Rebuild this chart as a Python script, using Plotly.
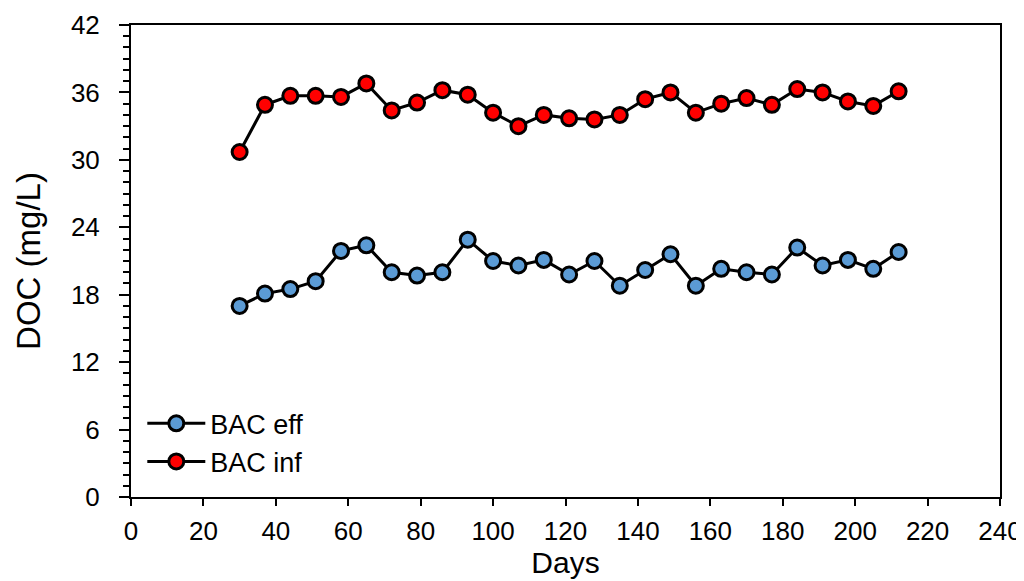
import plotly.graph_objects as go

days = [30, 37, 44, 51, 58, 65, 72, 79, 86, 93, 100, 107, 114, 121, 128, 135,
        142, 149, 156, 163, 170, 177, 184, 191, 198, 205, 212]
bac_inf = [30.7, 34.9, 35.7, 35.7, 35.6, 36.8, 34.4, 35.1, 36.2, 35.8, 34.2, 33.0,
           34.0, 33.7, 33.6, 34.0, 35.4, 36.0, 34.2, 35.0, 35.5, 34.9, 36.3, 36.0,
           35.2, 34.8, 36.1]
bac_eff = [17.0, 18.1, 18.5, 19.2, 21.9, 22.4, 20.0, 19.7, 20.0, 22.9, 21.0, 20.6,
           21.1, 19.8, 21.0, 18.8, 20.2, 21.6, 18.8, 20.3, 20.0, 19.8, 22.2, 20.6,
           21.1, 20.3, 21.8]

FONT = "Liberation Sans, Arial, sans-serif"

fig = go.Figure()
fig.add_trace(go.Scatter(
    x=days, y=bac_eff, name="BAC eff", mode="lines+markers",
    line=dict(color="black", width=3),
    marker=dict(size=15, color="#5B9BD5", line=dict(color="black", width=3)),
))
fig.add_trace(go.Scatter(
    x=days, y=bac_inf, name="BAC inf", mode="lines+markers",
    line=dict(color="black", width=3),
    marker=dict(size=15, color="#FF0000", line=dict(color="black", width=3)),
))

fig.update_layout(
    width=1024, height=581,
    margin=dict(l=123, r=32, t=17, b=92, autoexpand=False),
    paper_bgcolor="white", plot_bgcolor="white",
    font=dict(family=FONT, color="black", size=26),
    showlegend=True,
    legend=dict(x=0.013, y=0.207, xanchor="left", yanchor="top",
                bgcolor="rgba(0,0,0,0)", font=dict(size=27, family=FONT),
                itemwidth=58, tracegroupgap=0),
    xaxis=dict(
        range=[0, 240], tick0=0, dtick=20, showgrid=False, zeroline=False,
        showline=True, linecolor="black", linewidth=2, mirror=True,
        ticks="outside", ticklen=7, tickwidth=2, tickcolor="black",
        tickfont=dict(size=26, family=FONT), ticklabelstandoff=3,
        ticklabeloverflow="allow", automargin=False,
        title=dict(text="Days", font=dict(size=30, family=FONT), standoff=0),
    ),
    yaxis=dict(
        range=[0, 42], tick0=0, dtick=6, showgrid=False, zeroline=False,
        showline=True, linecolor="black", linewidth=2, mirror=True,
        ticks="outside", ticklen=10, tickwidth=2, tickcolor="black",
        tickfont=dict(size=26, family=FONT), ticklabelstandoff=14,
        ticklabeloverflow="allow", automargin=False,
        minor=dict(dtick=1, ticks="outside", ticklen=6, tickwidth=1.5, tickcolor="black"),
        title=dict(text="DOC (mg/L)", font=dict(size=33, family=FONT), standoff=20),
    ),
)

fig.write_html("out.html")
